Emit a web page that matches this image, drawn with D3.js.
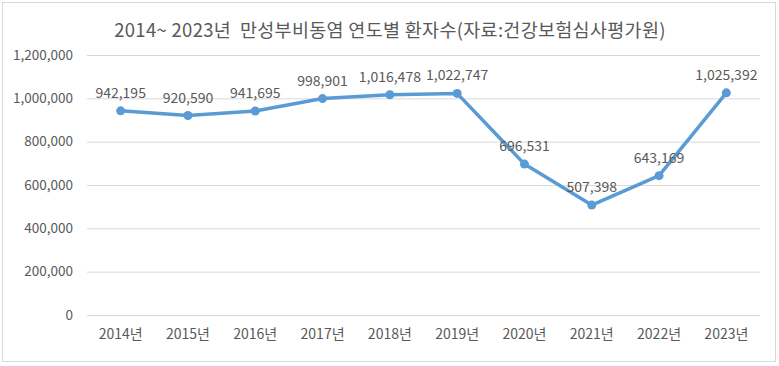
<!DOCTYPE html>
<html><head><meta charset="utf-8">
<script src="https://cdn.jsdelivr.net/npm/d3@7"></script>
<style>
html,body{margin:0;padding:0;background:#fff;}
svg{display:block;}
text{font-family:"Noto Sans CJK KR","Noto Sans",sans-serif;fill:#595959;}
</style></head><body>
<svg id="c" width="779" height="366"></svg>
<script>
const categories = ["2014년","2015년","2016년","2017년","2018년","2019년","2020년","2021년","2022년","2023년"];
const values = [942195,920590,941695,998901,1016478,1022747,696531,507398,643169,1025392];
const yTicks = [0,200000,400000,600000,800000,1000000,1200000];
const title = "2014~ 2023년  만성부비동염 연도별 환자수(자료:건강보험심사평가원)";

(function(){
const svg = d3.select("#c");
svg.append("rect").attr("x",2.5).attr("y",2.5).attr("width",773).attr("height",359)
  .attr("fill","#fff").attr("stroke","#d9d9d9").attr("stroke-width",1);

const mL=87, mR=760, mT=55, mB=315;
const x = d3.scaleBand().domain(categories).range([mL,mR]);
const y = d3.scaleLinear().domain([0,1200000]).range([mB,mT]);
const fmt = d3.format(",");
const ff = '"Noto Sans CJK KR","Noto Sans",sans-serif';

svg.append("text").attr("x",390).attr("y",37).attr("text-anchor","middle")
  .style("white-space","pre").attr("font-size",18.5).attr("letter-spacing",0.3).text(title);

const gy = svg.append("g").attr("transform",`translate(${mL},0)`)
  .call(d3.axisLeft(y).tickValues(yTicks).tickFormat(d=>fmt(d)).tickSize(-(mR-mL)).tickPadding(14));
gy.select(".domain").remove();
gy.selectAll(".tick line").attr("stroke","#d9d9d9").attr("stroke-width",1);
gy.selectAll(".tick text").attr("font-size",13.5).attr("fill","#595959").style("font-family",ff);

const gx = svg.append("g").attr("transform",`translate(0,${mB})`)
  .call(d3.axisBottom(x).tickSize(0).tickPadding(14));
gx.select(".domain").remove();
gx.selectAll(".tick text").attr("font-size",14).attr("fill","#595959").style("font-family",ff);

const cx = d => x(d)+x.bandwidth()/2;
const line = d3.line().x((d,i)=>cx(categories[i])).y(d=>y(d));
svg.append("path").datum(values).attr("d",line).attr("fill","none")
  .attr("stroke","#5b9bd5").attr("stroke-width",3.5).attr("stroke-linejoin","round");
svg.selectAll("circle.p").data(values).join("circle").attr("class","p")
  .attr("cx",(d,i)=>cx(categories[i])).attr("cy",d=>y(d)).attr("r",4.5).attr("fill","#5b9bd5");
svg.selectAll("text.lbl").data(values).join("text").attr("class","lbl")
  .attr("x",(d,i)=>cx(categories[i])).attr("y",d=>y(d)-13).attr("text-anchor","middle")
  .attr("font-size",14).text(d=>fmt(d));
})();
</script></body></html>
